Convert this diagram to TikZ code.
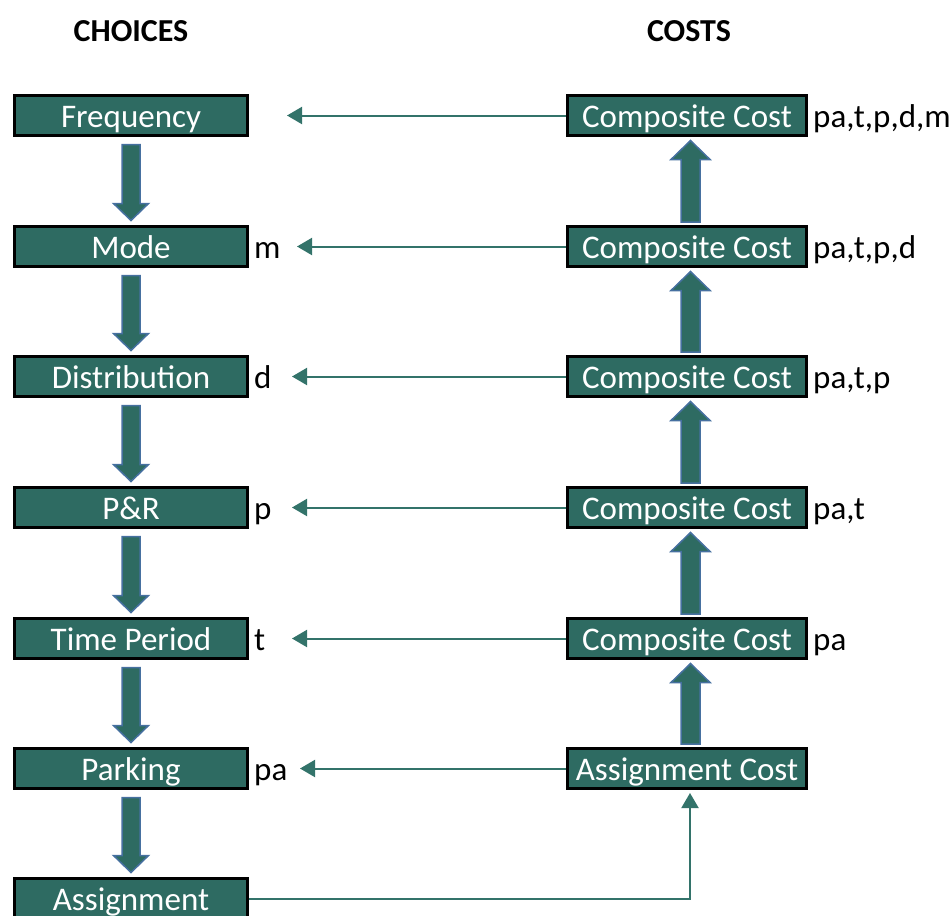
\documentclass[tikz,border=0pt]{standalone}
\usepackage{fontspec}
\setmainfont{Carlito}
\usetikzlibrary{arrows.meta,calc}
\definecolor{tealfill}{HTML}{2E6B62}
\definecolor{tealline}{HTML}{33736A}
\definecolor{blkout}{HTML}{4670A0}
\tikzset{
  box/.style={draw=black, line width=3pt, fill=tealfill, text=white, inner sep=0pt,
    minimum height=40pt, text height=25pt, text depth=2pt,
    font=\fontsize{33}{38}\selectfont},
  lbox/.style={box, minimum width=233pt},
  rbox/.style={box, minimum width=239pt},
  lab/.style={anchor=base west, inner sep=0pt, font=\fontsize{33}{38}\selectfont},
  hdr/.style={anchor=base, inner sep=0pt, font=\fontsize{32}{36}\selectfont\bfseries},
  conn/.style={draw=tealline, line width=2pt, -{Triangle[length=15pt,width=17pt]}},
  blk/.style={draw=blkout, fill=tealfill, line width=1.5pt, line join=miter}
}
\newcommand\blkdown[2]{%
  \draw[blk] let \p1=(#1.south), \p2=(#2.north) in
    (\x1-9pt,\y1-7.5pt) -- (\x1+9pt,\y1-7.5pt) -- (\x1+9pt,\y2+21.5pt)
    -- (\x1+17.5pt,\y2+21.5pt) -- (\x1,\y2+4.5pt) -- (\x1-17.5pt,\y2+21.5pt)
    -- (\x1-9pt,\y2+21.5pt) -- cycle;}
\newcommand\blkup[2]{%
  \draw[blk] let \p1=(#1.north), \p2=(#2.south) in
    (\x1-6pt,\y1+3pt) -- (\x1+13pt,\y1+3pt) -- (\x1+13pt,\y2-22.5pt)
    -- (\x1+23pt,\y2-22.5pt) -- (\x1+3.5pt,\y2-3.5pt) -- (\x1-16pt,\y2-22.5pt)
    -- (\x1-6pt,\y2-22.5pt) -- cycle;}
\begin{document}
\begin{tikzpicture}[x=1pt,y=-1pt]
\useasboundingbox (0,0) rectangle (951,916);
% headers
\node[hdr] (hc) at (131,41) {CHOICES};
\node[hdr] (hk) at (689,41) {COSTS};
% choice boxes
\node[lbox] (f)  at (131,115.5) {Frequency};
\node[lbox] (m)  at (131,246.5) {Mode};
\node[lbox] (d)  at (131,376.5) {Distribution};
\node[lbox] (p)  at (131,507.5) {P\&R};
\node[lbox] (t)  at (131,638.5) {Time Period};
\node[lbox] (pa) at (131,768.5) {Parking};
\node[lbox] (as) at (131,898.5) {Assignment};
% cost boxes
\node[rbox] (c5) at (687,115.5) {Composite Cost};
\node[rbox] (c4) at (687,246.5) {Composite Cost};
\node[rbox] (c3) at (687,376.5) {Composite Cost};
\node[rbox] (c2) at (687,507.5) {Composite Cost};
\node[rbox] (c1) at (687,638.5) {Composite Cost};
\node[rbox] (ac) at (687,768.5) {Assignment Cost};
% left labels
\node[lab] (lm)  at (254,258) {m};
\node[lab] (ld)  at (254,388) {d};
\node[lab] (lp)  at (254,519) {p};
\node[lab] (lt)  at (254,650) {t};
\node[lab] (lpa) at (254,780) {pa};
% right labels
\node[lab] (r5) at (813,127) {pa,t,p,d,m};
\node[lab] (r4) at (813,258) {pa,t,p,d};
\node[lab] (r3) at (813,388) {pa,t,p};
\node[lab] (r2) at (813,519) {pa,t};
\node[lab] (r1) at (813,650) {pa};
% arrow tip coordinates
\coordinate (tf)  at (287,115.5);
\coordinate (tm)  at (297,246.5);
\coordinate (td)  at (292,376.5);
\coordinate (tp)  at (292,507.5);
\coordinate (tt)  at (292,638.5);
\coordinate (tpa) at (300,768.5);
% thin connectors
\draw[conn] (c5.west) -- (tf);
\draw[conn] (c4.west) -- (tm);
\draw[conn] (c3.west) -- (td);
\draw[conn] (c2.west) -- (tp);
\draw[conn] (c1.west) -- (tt);
\draw[conn] (ac.west) -- (tpa);
\draw[conn, shorten >=3pt] (as.east) -| ([xshift=3pt]ac.south);
% block arrows down
\blkdown{f}{m}
\blkdown{m}{d}
\blkdown{d}{p}
\blkdown{p}{t}
\blkdown{t}{pa}
\blkdown{pa}{as}
% block arrows up
\blkup{ac}{c1}
\blkup{c1}{c2}
\blkup{c2}{c3}
\blkup{c3}{c4}
\blkup{c4}{c5}
\end{tikzpicture}
\end{document}
